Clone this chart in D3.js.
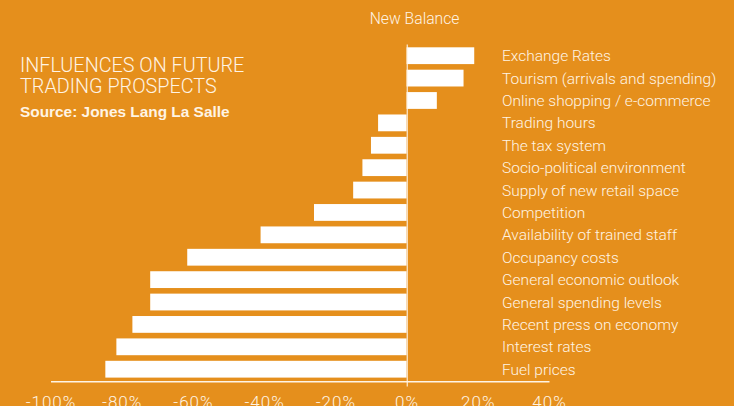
<!DOCTYPE html>
<html>
<head>
<meta charset="utf-8">
<script src="https://cdn.jsdelivr.net/npm/d3@7"></script>
<style>
  html, body { margin: 0; padding: 0; background: #E58F1C; }
  svg { display: block; }
  text { font-family: Roboto, "Liberation Sans", sans-serif; }
</style>
</head>
<body>
<div id="chart"></div>
<script>
const categories = [
  "Exchange Rates",
  "Tourism (arrivals and spending)",
  "Online shopping / e-commerce",
  "Trading hours",
  "The tax system",
  "Socio-political environment",
  "Supply of new retail space",
  "Competition",
  "Availability of trained staff",
  "Occupancy costs",
  "General economic outlook",
  "General spending levels",
  "Recent press on economy",
  "Interest rates",
  "Fuel prices"
];
const netBalance = [19, 16, 8.5, -8, -10, -12.4, -15, -26, -41, -61.6, -72, -72, -77, -81.5, -84.6];
const tickValues = [-100, -80, -60, -40, -20, 0, 20, 40];
const titleLines = ["INFLUENCES ON FUTURE", "TRADING PROSPECTS"];
const sourceText = "Source: Jones Lang La Salle";
const axisTitle = "New Balance";

const W = 734, H = 406;
const BG = "#E58F1C";
const FG = "#FFF4E4";

const svg = d3.select("#chart").append("svg")
  .attr("width", W).attr("height", H);

svg.append("rect").attr("width", W).attr("height", H).attr("fill", BG);

const x = d3.scaleLinear().domain([-100, 40]).range([50.5, 549]);
const y = d3.scaleBand().domain(categories).range([44.5, 380.4])
  .paddingInner(0.25).paddingOuter(0.125);

// bars
svg.append("g").selectAll("rect")
  .data(categories)
  .join("rect")
  .attr("x", (d, i) => Math.min(x(0), x(netBalance[i])))
  .attr("y", d => y(d))
  .attr("width", (d, i) => Math.abs(x(netBalance[i]) - x(0)))
  .attr("height", y.bandwidth())
  .attr("fill", "#FFFFFF");

// zero line
svg.append("line")
  .attr("x1", x(0) + 0.7).attr("x2", x(0) + 0.7)
  .attr("y1", y.range()[0]).attr("y2", 386.5)
  .attr("stroke", FG).attr("stroke-opacity", 0.85).attr("stroke-width", 1.3);

// x axis
const axisY = 381.2;
const axis = d3.axisBottom(x)
  .tickValues(tickValues)
  .tickFormat(d => d + "%")
  .tickSize(0)
  .tickPadding(15);
const gx = svg.append("g")
  .attr("transform", `translate(0,${axisY})`)
  .call(axis);
gx.select(".domain").attr("stroke", FG).attr("stroke-width", 1.4);
gx.selectAll(".tick text")
  .attr("fill", FG)
  .style("font-size", "17px")
  .style("font-weight", 300)
  .style("letter-spacing", "1px")
  .style("font-family", "Roboto, 'Liberation Sans', sans-serif");

// category labels
svg.append("g").selectAll("text")
  .data(categories)
  .join("text")
  .attr("x", 502)
  .attr("y", d => y(d) + y.bandwidth() / 2 + 5.5)
  .attr("fill", FG)
  .style("font-size", "15.5px")
  .style("font-weight", 300)
  .text(d => d);

// axis title
svg.append("text")
  .attr("x", x(0) + 8).attr("y", 24)
  .attr("text-anchor", "middle")
  .attr("fill", FG)
  .style("font-size", "15.7px")
  .style("font-weight", 300)
  .text(axisTitle);

// title
svg.append("g").selectAll("text")
  .data(titleLines)
  .join("text")
  .attr("x", 20)
  .attr("y", (d, i) => 71.7 + i * 21.6)
  .attr("fill", FG)
  .style("font-size", "19.8px")
  .style("font-weight", 300)
  .text(d => d);

svg.append("text")
  .attr("x", 20).attr("y", 116.7)
  .attr("fill", FG)
  .style("font-family", "'Liberation Sans', Arial, sans-serif")
  .style("font-size", "15.4px")
  .style("font-weight", 700)
  .text(sourceText);
</script>
</body>
</html>
